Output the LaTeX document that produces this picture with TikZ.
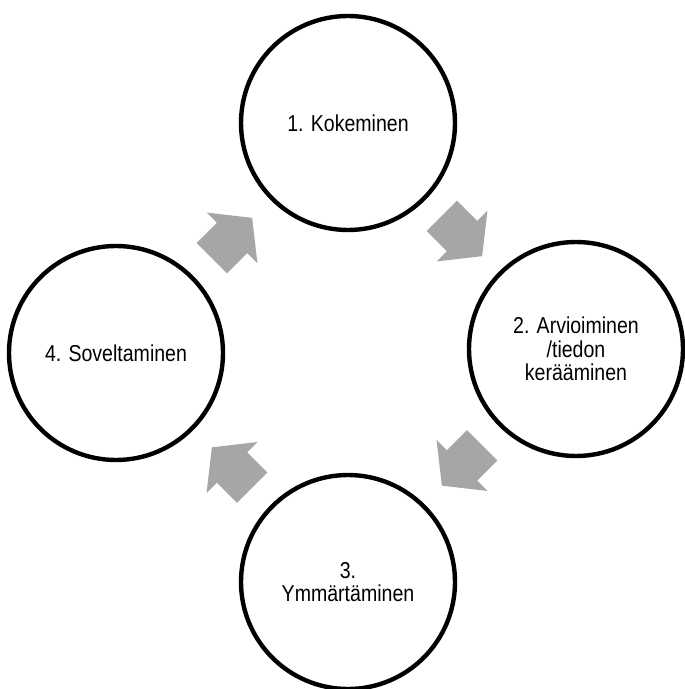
\documentclass[tikz,border=0pt]{standalone}
\usepackage{fontspec}
\setmainfont[FakeStretch=0.85]{Liberation Sans}
\usetikzlibrary{calc}
\definecolor{gray6}{HTML}{A6A6A6}

\begin{document}
\begin{tikzpicture}[x=0.5pt, y=-0.5pt, align=center]
\useasboundingbox (0,0) rectangle (684,689);
\tikzset{vaihe/.style={circle, draw, line width=2.2pt, minimum size=107pt, inner sep=0pt, font=\fontsize{11.5}{11.7}\selectfont}}
\node[vaihe] (koke) at (348,123) {1. Kokeminen};
\node[vaihe] (arvi) at (576,349) {2. Arvioiminen\\/tiedon\\kerääminen};
\node[vaihe] (ymmar) at (348,582) {3.\\Ymmärtäminen};
\node[vaihe] (sovel) at (116,353) {4. Soveltaminen};
\fill[shift={($(sovel)!0.5!(koke)$)}, rotate=45, fill=gray6] (-28.5,-21.5) -- (0,-21.5) -- (0,-36) -- (28.5,0) -- (0,36) -- (0,21.5) -- (-28.5,21.5) -- cycle;
\fill[shift={($(koke)!0.5!(arvi)$)}, rotate=-45, fill=gray6] (-28.5,-21.5) -- (0,-21.5) -- (0,-36) -- (28.5,0) -- (0,36) -- (0,21.5) -- (-28.5,21.5) -- cycle;
\fill[shift={($(arvi)!0.5!(ymmar)$)}, rotate=-135, fill=gray6] (-28.5,-21.5) -- (0,-21.5) -- (0,-36) -- (28.5,0) -- (0,36) -- (0,21.5) -- (-28.5,21.5) -- cycle;
\fill[shift={($(ymmar)!0.5!(sovel)$)}, rotate=135, fill=gray6] (-28.5,-21.5) -- (0,-21.5) -- (0,-36) -- (28.5,0) -- (0,36) -- (0,21.5) -- (-28.5,21.5) -- cycle;
\end{tikzpicture}
\end{document}
